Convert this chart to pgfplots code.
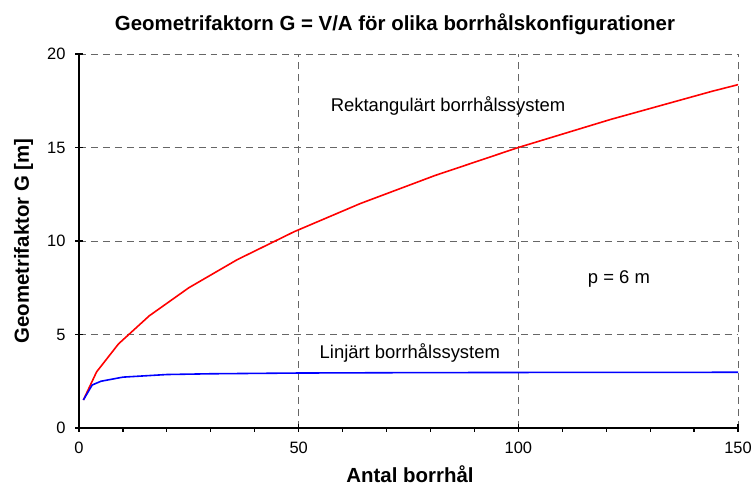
\documentclass[border=0pt]{standalone}
\usepackage{fontspec}
\setmainfont{Liberation Sans}
\usepackage{pgfplots}
\pgfplotsset{compat=1.18}
\begin{document}
\begin{tikzpicture}
\begin{axis}[
  at={(0,0)}, anchor=south west,
  scale only axis, width=659bp, height=374bp,
  xmin=0, xmax=150, ymin=0, ymax=20,
  axis lines=left, axis line style={-, line width=1.6pt},
  xtick={0,50,100,150}, ytick={0,5,10,15,20},
  minor xtick={10,20,30,40,60,70,80,90,110,120,130,140},
  tick align=center, major tick length=8pt, minor tick length=4pt,
  every tick/.style={black, line width=1.2pt},
  minor x tick style={yshift=-2pt},
  grid=major,
  major grid style={dash pattern=on 7pt off 5pt, color=black!60, line width=1pt},
  tick label style={font=\fontsize{16.5}{19}\selectfont},
  /pgf/number format/assume math mode=true,
  xticklabel style={yshift=-7pt},
  yticklabel style={xshift=-6pt},
  xlabel={\textbf{Antal borrhål}},
  ylabel={\textbf{Geometrifaktor G [m]}},
  label style={font=\fontsize{20.5}{24}\selectfont},
  xlabel style={at={(axis description cs:0.5,0)}, anchor=base, yshift=-54bp, xshift=1.5bp},
  ylabel style={at={(axis description cs:-0.0842,0.5)}, anchor=center},
  clip=true,
]
\addplot[red, line width=1.6pt] coordinates {
 (1,1.5) (4,3) (9,4.5) (16,6) (25,7.5) (36,9) (49,10.5) (64,12) (81,13.5) (100,15) (121,16.5) (144,18) (169,19.5)
};
\addplot[blue, line width=1.6pt] coordinates {
 (1,1.5) (3,2.3) (5,2.5) (10,2.72) (20,2.86) (30,2.9) (40,2.92) (50,2.94) (75,2.96) (100,2.97) (150,2.98)
};
\node[font=\fontsize{18.5}{21}\selectfont, anchor=base] at (axis cs:84.0,16.9) {Rektangulärt borrhålssystem};
\node[font=\fontsize{18.5}{21}\selectfont, anchor=base] at (axis cs:75.3,3.69) {Linjärt borrhålssystem};
\node[font=\fontsize{18.5}{21}\selectfont, anchor=base] at (axis cs:122.9,7.75) {p = 6 m};
\end{axis}
\node[font=\bfseries\fontsize{20.5}{24}\selectfont, anchor=base] at (316bp,397bp) {Geometrifaktorn G = V/A för olika borrhålskonfigurationer};
\pgfresetboundingbox
\path (-79bp,-58bp) rectangle (672bp,428bp);
\end{tikzpicture}
\end{document}
